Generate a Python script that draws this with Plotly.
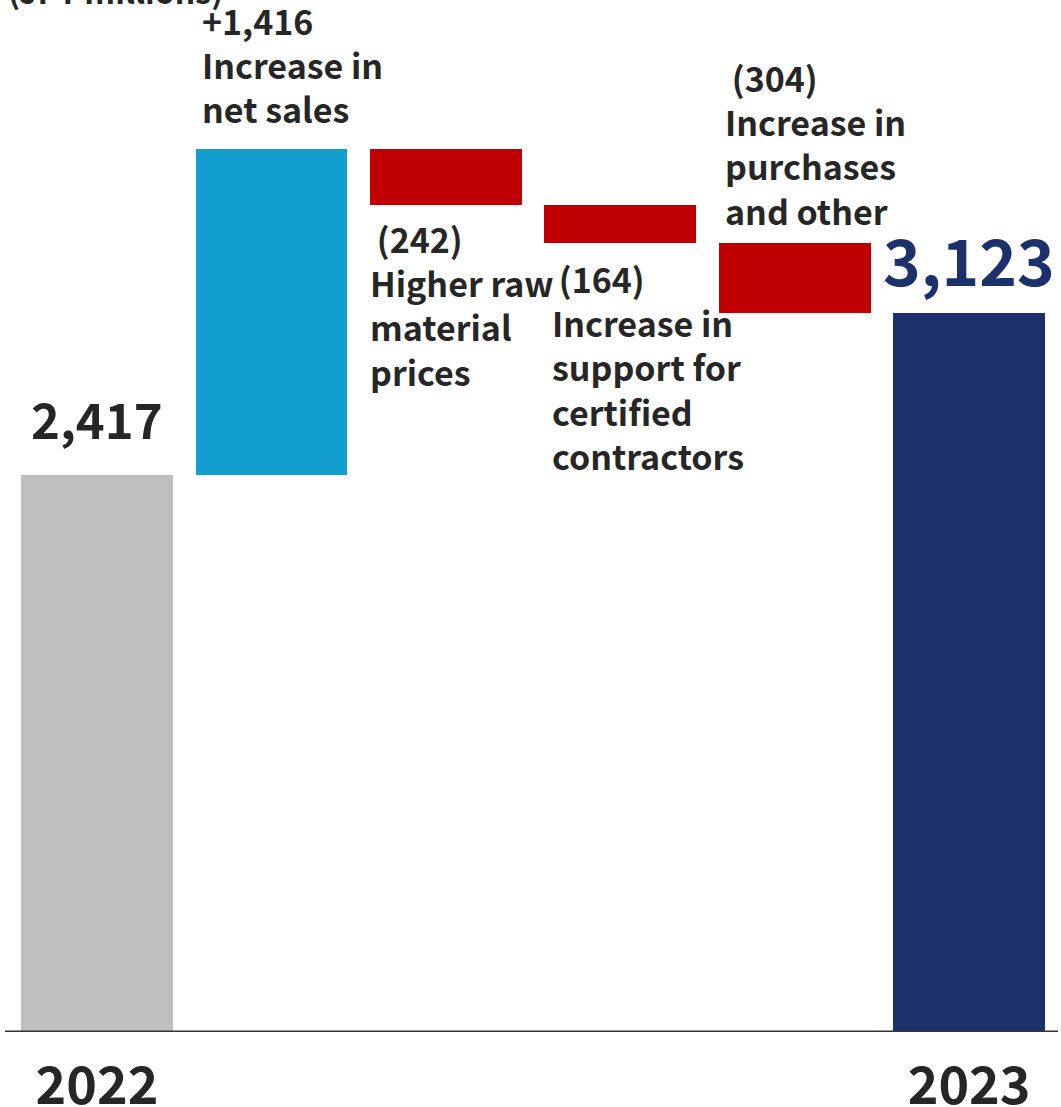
import plotly.graph_objects as go

# Operating profit bridge, FY2022 -> FY2023 (JPY millions)
start_label = "2022"
end_label = "2023"
start_value = 2417
end_value = 3123

change_labels = [
    "+1,416<br>Increase in<br>net sales",
    "\u2009(242)<br>Higher raw<br>material<br>prices",
    "\u2009(164)<br>Increase in<br>support for<br>certified<br>contractors",
    "\u2009(304)<br>Increase in<br>purchases<br>and other",
]
change_values = [1416, -242, -164, -304]
change_colors = ["#129ece", "#c00000", "#c00000", "#c00000"]

FONT = "Noto Sans CJK JP"
TEXT = "#262626"
NAVY = "#1c306c"

# floating bar geometry from the running total
xs, bases, heights, colors = [0], [0], [start_value], ["#bfbfbf"]
running = start_value
for i, (v, c) in enumerate(zip(change_values, change_colors), start=1):
    lo = running if v > 0 else running + v
    xs.append(i)
    bases.append(lo)
    heights.append(abs(v))
    colors.append(c)
    running += v
xs.append(len(change_values) + 1)
bases.append(0)
heights.append(end_value)
colors.append(NAVY)

fig = go.Figure(
    go.Bar(
        x=xs, y=heights, base=bases, width=0.87,
        marker=dict(color=colors, line=dict(width=0)),
        hoverinfo="skip",
    )
)

ann = []
half = 0.87 / 2
label_font = dict(family=FONT, size=34, color=TEXT, weight="bold")
# change labels, tied to each floating bar
running = start_value
for i, (lab, v) in enumerate(zip(change_labels, change_values), start=1):
    top = running + max(v, 0)
    bottom = running + min(v, 0)
    running += v
    if i == 1 or i == 4:
        ann.append(dict(x=i - half, y=top, xref="x", yref="y", text=lab,
                        xanchor="left", yanchor="bottom", align="left",
                        xshift=4, yshift=6 if i == 4 else 14, showarrow=False,
                        font=label_font))
    else:
        ann.append(dict(x=i - half, y=bottom, xref="x", yref="y", text=lab,
                        xanchor="left", yanchor="top", align="left",
                        xshift=-2 if i == 2 else 6, yshift=-7 if i == 2 else -9,
                        showarrow=False, font=label_font))

# totals
ann.append(dict(x=0, y=start_value, xref="x", yref="y",
                text=f"{start_value:,}", xanchor="center", yanchor="bottom",
                yshift=20, showarrow=False,
                font=dict(family=FONT, size=49, color=TEXT, weight="bold")))
ann.append(dict(x=len(change_values) + 1, y=end_value, xref="x", yref="y",
                text=f"{end_value:,}", xanchor="center", yanchor="bottom",
                yshift=7, showarrow=False,
                font=dict(family=FONT, size=64, color=NAVY, weight="bold")))

# unit label
ann.append(dict(x=0.006, y=1, xref="paper", yref="paper",
                text="(JPY millions)", xanchor="left", yanchor="middle",
                yshift=10, showarrow=False,
                font=dict(family=FONT, size=32, color=TEXT, weight="bold")))

fig.update_layout(
    width=1061, height=1107,
    margin=dict(l=0, r=0, t=0, b=75),
    paper_bgcolor="white", plot_bgcolor="white",
    showlegend=False,
    annotations=ann,
    bargap=0,
    shapes=[dict(type="line", xref="x", yref="y", x0=-0.528, x1=5.51, y0=0, y1=0,
                 line=dict(color="#333333", width=3))],
)
fig.update_xaxes(
    range=[-0.556, 5.527],
    tickmode="array", tickvals=[0, len(change_values) + 1],
    ticktext=[start_label, end_label],
    ticks="outside", ticklen=9, tickcolor="rgba(0,0,0,0)",
    tickfont=dict(family=FONT, size=52, color=TEXT, weight="bold"),
    showgrid=False, zeroline=False, showline=False, automargin=False,
)
fig.update_yaxes(range=[0, 4480], visible=False, showgrid=False, zeroline=False,
                 automargin=False)

fig.write_html("out.html")
